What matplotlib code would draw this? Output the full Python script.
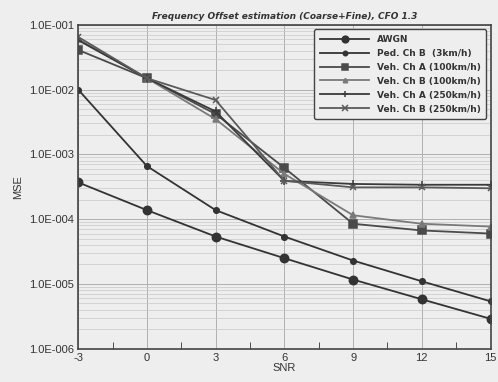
import matplotlib
matplotlib.use("Agg")
import matplotlib.pyplot as plt
from matplotlib.ticker import FixedLocator, NullFormatter

snr = [-3, 0, 3, 6, 9, 12, 15]
awgn = [3.7e-4, 1.38e-4, 5.4e-5, 2.5e-5, 1.17e-5, 5.8e-6, 2.9e-6]
ped_b_3 = [1.0e-2, 6.6e-4, 1.38e-4, 5.4e-5, 2.3e-5, 1.1e-5, 5.4e-6]
veh_a_100 = [4.1e-2, 1.5e-2, 4.2e-3, 6.2e-4, 8.5e-5, 6.7e-5, 6.0e-5]
veh_b_100 = [6.0e-2, 1.5e-2, 3.5e-3, 5.0e-4, 1.15e-4, 8.5e-5, 7.7e-5]
veh_a_250 = [5.8e-2, 1.5e-2, 4.6e-3, 3.9e-4, 3.5e-4, 3.4e-4, 3.4e-4]
veh_b_250 = [6.5e-2, 1.5e-2, 6.9e-3, 3.9e-4, 3.1e-4, 3.1e-4, 3.0e-4]

labels = ["AWGN", "Ped. Ch B  (3km/h)", "Veh. Ch A (100km/h)", "Veh. Ch B (100km/h)",
          "Veh. Ch A (250km/h)", "Veh. Ch B (250km/h)"]
series = [awgn, ped_b_3, veh_a_100, veh_b_100, veh_a_250, veh_b_250]
markers = ["o", "o", "s", "^", "+", "x"]
msizes = [6, 4, 6, 4, 6, 5]
colors = ["#333333", "#333333", "#4a4a4a", "#7a7a7a", "#3a3a3a", "#5a5a5a"]

bg = "#eeeeee"
fig = plt.figure(figsize=(4.98, 3.82), dpi=100, facecolor=bg)
ax = fig.add_axes([0.157, 0.087, 0.828, 0.848])
ax.set_facecolor(bg)

for y, lab, m, ms, c in zip(series, labels, markers, msizes, colors):
    ax.plot(snr, y, marker=m, markersize=ms, color=c, lw=1.3, label=lab,
            markeredgewidth=1.1)

ax.set_yscale("log")
ax.set_ylim(1e-6, 1e-1)
ax.set_xlim(-3, 15)
ax.set_xticks(snr)
ax.set_xticklabels([str(v) for v in snr], family="Liberation Sans")
ax.xaxis.set_minor_locator(FixedLocator([-1.5, 1.5, 4.5, 7.5, 10.5, 13.5]))
yt = [1e-6, 1e-5, 1e-4, 1e-3, 1e-2, 1e-1]
ax.set_yticks(yt)
ax.set_yticklabels(["1.0E-006", "1.0E-005", "1.0E-004", "1.0E-003", "1.0E-002", "1.0E-001"],
                   family="Liberation Sans")
ax.yaxis.set_minor_formatter(NullFormatter())

ax.grid(True, which="major", axis="both", color="#b0b0b0", lw=0.7)
ax.grid(True, which="minor", axis="y", color="#c8c8c8", lw=0.5)
ax.tick_params(axis="both", which="major", labelsize=8, colors="#333333", length=0, pad=3)
ax.tick_params(axis="x", which="minor", length=5, direction="in", color="#333333")
ax.tick_params(axis="y", which="minor", length=0)
for s in ax.spines.values():
    s.set_color("#444444")
    s.set_linewidth(1.2)

ax.set_xlabel("SNR", fontsize=8, labelpad=0, color="#333333", family="Liberation Sans")
ax.set_ylabel("MSE", fontsize=8, color="#333333", labelpad=4, family="Liberation Sans")
ax.set_title("Frequency Offset estimation (Coarse+Fine), CFO 1.3", fontsize=6.5,
             fontweight="bold", style="italic", color="#333333", pad=4)

leg = ax.legend(loc="upper right", bbox_to_anchor=(1.0, 1.0), fontsize=6.5,
                frameon=True, fancybox=True, handlelength=5.5, borderpad=0.6,
                labelspacing=0.55, handletextpad=0.8, markerscale=0.8)
leg.get_frame().set_facecolor(bg)
leg.get_frame().set_edgecolor("#444444")
leg.get_frame().set_linewidth(1.0)
leg.get_frame().set_alpha(1)
for t in leg.get_texts():
    t.set_fontweight("bold")
    t.set_color("#333333")

fig.savefig("out.png", dpi=100, facecolor=bg)
